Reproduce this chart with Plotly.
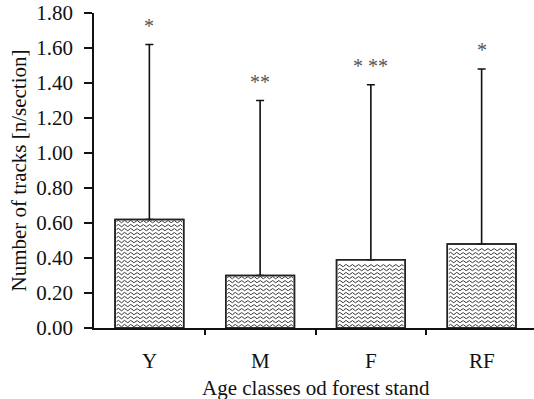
import numpy as np
import plotly.graph_objects as go

categories = ["Y", "M", "F", "RF"]
means = [0.62, 0.30, 0.39, 0.48]
sd_upper = [1.00, 1.00, 1.00, 1.00]
signif = ["*", "**", "* **", "*"]
y_ticks = [0.0, 0.2, 0.4, 0.6, 0.8, 1.0, 1.2, 1.4, 1.6, 1.8]
x_title = "Age classes od forest stand"
y_title = "Number of tracks [n/section]"

FONT = "Liberation Serif"
W, H = 534, 399
L, R, T, B = 94, 0, 13, 71
BAR_W = 0.62
XR = [-0.5, 3.473]
YR = [0, 1.8]

xpos = list(range(len(categories)))
fig = go.Figure()

fig.add_trace(go.Bar(
    x=xpos, y=means, width=BAR_W,
    marker=dict(color="white", line=dict(color="#222", width=1.5)),
    error_y=dict(type="data", symmetric=False, array=sd_upper,
                 arrayminus=[0] * len(means), color="#111", thickness=1.6, width=4),
    showlegend=False, hoverinfo="skip",
))

# wavy fill pattern computed from bar geometry
px_per_x = (W - L - R) / (XR[1] - XR[0])
px_per_y = (H - T - B) / (YR[1] - YR[0])
row_gap = 4.0 / px_per_y
amp = 1.2 / px_per_y
period = 6.2 / px_per_x
wx, wy = [], []
for xc, v in zip(xpos, means):
    left = xc - BAR_W / 2 + 1.5 / px_per_x
    right = xc + BAR_W / 2 - 1.5 / px_per_x
    xs = np.linspace(left, right, 160)
    base = row_gap * 0.6
    while base < v - row_gap * 0.5:
        wx.extend(xs.tolist() + [None])
        wy.extend((base + amp * np.sin(2 * np.pi * (xs - left) / period)).tolist() + [None])
        base += row_gap
fig.add_trace(go.Scatter(x=wx, y=wy, mode="lines", line=dict(color="#333", width=1),
                         showlegend=False, hoverinfo="skip"))

# re-draw bar outlines on top
fig.add_trace(go.Bar(
    x=xpos, y=means, width=BAR_W,
    marker=dict(color="rgba(0,0,0,0)", line=dict(color="#222", width=1.5)),
    showlegend=False, hoverinfo="skip",
))

for xc, v, e, s in zip(xpos, means, sd_upper, signif):
    fig.add_annotation(x=xc, y=v + e, text=s, showarrow=False, yanchor="bottom",
                       yshift=6, font=dict(family=FONT, size=20, color="#555"))

for xc, c in zip(xpos, categories):
    fig.add_annotation(x=xc, y=0, text=c, showarrow=False, yanchor="middle",
                       yshift=-33, font=dict(family=FONT, size=21, color="#111"))

fig.add_annotation(x=0.5 * (XR[0] + 3.5), y=0, text=x_title, showarrow=False,
                   yanchor="middle", yshift=-60, xref="x", yref="y",
                   font=dict(family=FONT, size=21, color="#111"))
fig.add_annotation(x=-76 / (W - L - R), xref="paper", y=0.5, yref="paper", text=y_title,
                   textangle=-90, showarrow=False, xanchor="center", yanchor="middle",
                   font=dict(family=FONT, size=21, color="#111"))

fig.update_layout(
    width=W, height=H, margin=dict(l=L, r=R, t=T, b=B),
    plot_bgcolor="white", paper_bgcolor="white", barmode="overlay",
    font=dict(family=FONT, size=21, color="#111"),
)
fig.update_xaxes(range=XR, showgrid=False, zeroline=False, showline=True,
                 linecolor="#111", linewidth=1.5, ticks="outside", ticklen=5,
                 tickwidth=1.5, tickcolor="#111",
                 tickvals=[x + 0.5 for x in xpos[:-1]], ticktext=[""] * (len(xpos) - 1))
fig.update_yaxes(range=YR, showgrid=False, zeroline=False, showline=True,
                 linecolor="#111", linewidth=1.5, ticks="outside", ticklen=8,
                 tickwidth=1.5, tickcolor="#111", tickvals=y_ticks,
                 ticktext=[f"{t:.2f}" for t in y_ticks], ticklabelstandoff=7,
                 tickfont=dict(family=FONT, size=21, color="#111"))

fig.write_html("out.html")
